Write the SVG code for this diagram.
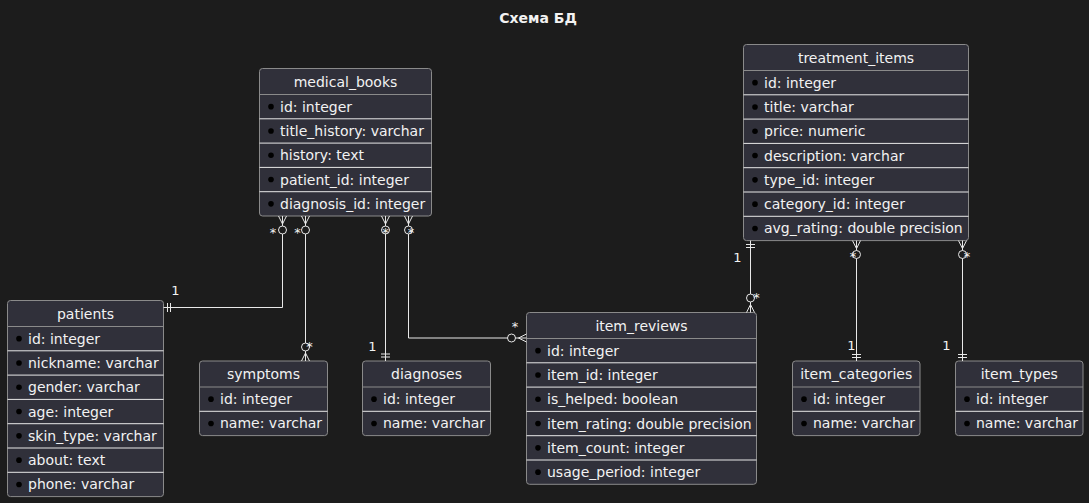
<svg xmlns="http://www.w3.org/2000/svg" width="1089" height="503" viewBox="0 0 1089 503">
<style>
text{font-family:"DejaVu Sans","Liberation Sans",sans-serif;fill:#f2f2f2}
.title{font-size:14px;font-weight:bold;text-anchor:middle}
.hdr{font-size:14px;text-anchor:middle}
.row{font-size:14px}
.lbl{font-size:13px;text-anchor:middle}
.box{fill:#30303a;stroke:#8a8a8a;stroke-width:1}
.hsep{stroke:#8a8a8a;stroke-width:1}
.rsep{stroke:#e8e8e8;stroke-width:1}
.dot{fill:#000}
.conn{fill:none;stroke:#e8e8e8;stroke-width:1}
.ring{fill:#1c1c1c;stroke:#e8e8e8;stroke-width:1}
</style>
<rect width="1089" height="503" fill="#1c1c1c"/>
<text class="title" x="538" y="23">Схема БД</text>

<g id="medical_books" transform="translate(259.5,68.5)">
<rect class="box" x="0" y="0" width="172" height="147.5" rx="3"/>
<text class="hdr" x="86" y="18">medical_books</text>
<line class="hsep" x1="0" y1="26" x2="172" y2="26"/>
<line class="rsep" x1="0" y1="50.3" x2="172" y2="50.3"/>
<line class="rsep" x1="0" y1="74.6" x2="172" y2="74.6"/>
<line class="rsep" x1="0" y1="98.9" x2="172" y2="98.9"/>
<line class="rsep" x1="0" y1="123.2" x2="172" y2="123.2"/>
<circle class="dot" cx="11.5" cy="38.15" r="2.8"/><text class="row" x="20.5" y="43.15">id: integer</text>
<circle class="dot" cx="11.5" cy="62.45" r="2.8"/><text class="row" x="20.5" y="67.45">title_history: varchar</text>
<circle class="dot" cx="11.5" cy="86.75" r="2.8"/><text class="row" x="20.5" y="91.75">history: text</text>
<circle class="dot" cx="11.5" cy="111.05" r="2.8"/><text class="row" x="20.5" y="116.05">patient_id: integer</text>
<circle class="dot" cx="11.5" cy="135.35" r="2.8"/><text class="row" x="20.5" y="140.35">diagnosis_id: integer</text>
</g>

<g id="patients" transform="translate(7.5,300.5)">
<rect class="box" x="0" y="0" width="156" height="196.1" rx="3"/>
<text class="hdr" x="78" y="18">patients</text>
<line class="hsep" x1="0" y1="26" x2="156" y2="26"/>
<line class="rsep" x1="0" y1="50.3" x2="156" y2="50.3"/>
<line class="rsep" x1="0" y1="74.6" x2="156" y2="74.6"/>
<line class="rsep" x1="0" y1="98.9" x2="156" y2="98.9"/>
<line class="rsep" x1="0" y1="123.2" x2="156" y2="123.2"/>
<line class="rsep" x1="0" y1="147.5" x2="156" y2="147.5"/>
<line class="rsep" x1="0" y1="171.8" x2="156" y2="171.8"/>
<circle class="dot" cx="11.5" cy="38.15" r="2.8"/><text class="row" x="20.5" y="43.15">id: integer</text>
<circle class="dot" cx="11.5" cy="62.45" r="2.8"/><text class="row" x="20.5" y="67.45">nickname: varchar</text>
<circle class="dot" cx="11.5" cy="86.75" r="2.8"/><text class="row" x="20.5" y="91.75">gender: varchar</text>
<circle class="dot" cx="11.5" cy="111.05" r="2.8"/><text class="row" x="20.5" y="116.05">age: integer</text>
<circle class="dot" cx="11.5" cy="135.35" r="2.8"/><text class="row" x="20.5" y="140.35">skin_type: varchar</text>
<circle class="dot" cx="11.5" cy="159.65" r="2.8"/><text class="row" x="20.5" y="164.65">about: text</text>
<circle class="dot" cx="11.5" cy="183.95" r="2.8"/><text class="row" x="20.5" y="188.95">phone: varchar</text>
</g>

<g id="symptoms" transform="translate(199.5,361)">
<rect class="box" x="0" y="0" width="128" height="74.6" rx="3"/>
<text class="hdr" x="64" y="18">symptoms</text>
<line class="hsep" x1="0" y1="26" x2="128" y2="26"/>
<line class="rsep" x1="0" y1="50.3" x2="128" y2="50.3"/>
<circle class="dot" cx="11.5" cy="38.15" r="2.8"/><text class="row" x="20.5" y="43.15">id: integer</text>
<circle class="dot" cx="11.5" cy="62.45" r="2.8"/><text class="row" x="20.5" y="67.45">name: varchar</text>
</g>

<g id="diagnoses" transform="translate(362.5,361)">
<rect class="box" x="0" y="0" width="128" height="74.6" rx="3"/>
<text class="hdr" x="64" y="18">diagnoses</text>
<line class="hsep" x1="0" y1="26" x2="128" y2="26"/>
<line class="rsep" x1="0" y1="50.3" x2="128" y2="50.3"/>
<circle class="dot" cx="11.5" cy="38.15" r="2.8"/><text class="row" x="20.5" y="43.15">id: integer</text>
<circle class="dot" cx="11.5" cy="62.45" r="2.8"/><text class="row" x="20.5" y="67.45">name: varchar</text>
</g>

<g id="item_reviews" transform="translate(526.5,312.5)">
<rect class="box" x="0" y="0" width="230" height="171.8" rx="3"/>
<text class="hdr" x="115" y="18">item_reviews</text>
<line class="hsep" x1="0" y1="26" x2="230" y2="26"/>
<line class="rsep" x1="0" y1="50.3" x2="230" y2="50.3"/>
<line class="rsep" x1="0" y1="74.6" x2="230" y2="74.6"/>
<line class="rsep" x1="0" y1="98.9" x2="230" y2="98.9"/>
<line class="rsep" x1="0" y1="123.2" x2="230" y2="123.2"/>
<line class="rsep" x1="0" y1="147.5" x2="230" y2="147.5"/>
<circle class="dot" cx="11.5" cy="38.15" r="2.8"/><text class="row" x="20.5" y="43.15">id: integer</text>
<circle class="dot" cx="11.5" cy="62.45" r="2.8"/><text class="row" x="20.5" y="67.45">item_id: integer</text>
<circle class="dot" cx="11.5" cy="86.75" r="2.8"/><text class="row" x="20.5" y="91.75">is_helped: boolean</text>
<circle class="dot" cx="11.5" cy="111.05" r="2.8"/><text class="row" x="20.5" y="116.05">item_rating: double precision</text>
<circle class="dot" cx="11.5" cy="135.35" r="2.8"/><text class="row" x="20.5" y="140.35">item_count: integer</text>
<circle class="dot" cx="11.5" cy="159.65" r="2.8"/><text class="row" x="20.5" y="164.65">usage_period: integer</text>
</g>

<g id="treatment_items" transform="translate(743.5,44.5)">
<rect class="box" x="0" y="0" width="225" height="196.1" rx="3"/>
<text class="hdr" x="112.5" y="18">treatment_items</text>
<line class="hsep" x1="0" y1="26" x2="225" y2="26"/>
<line class="rsep" x1="0" y1="50.3" x2="225" y2="50.3"/>
<line class="rsep" x1="0" y1="74.6" x2="225" y2="74.6"/>
<line class="rsep" x1="0" y1="98.9" x2="225" y2="98.9"/>
<line class="rsep" x1="0" y1="123.2" x2="225" y2="123.2"/>
<line class="rsep" x1="0" y1="147.5" x2="225" y2="147.5"/>
<line class="rsep" x1="0" y1="171.8" x2="225" y2="171.8"/>
<circle class="dot" cx="11.5" cy="38.15" r="2.8"/><text class="row" x="20.5" y="43.15">id: integer</text>
<circle class="dot" cx="11.5" cy="62.45" r="2.8"/><text class="row" x="20.5" y="67.45">title: varchar</text>
<circle class="dot" cx="11.5" cy="86.75" r="2.8"/><text class="row" x="20.5" y="91.75">price: numeric</text>
<circle class="dot" cx="11.5" cy="111.05" r="2.8"/><text class="row" x="20.5" y="116.05">description: varchar</text>
<circle class="dot" cx="11.5" cy="135.35" r="2.8"/><text class="row" x="20.5" y="140.35">type_id: integer</text>
<circle class="dot" cx="11.5" cy="159.65" r="2.8"/><text class="row" x="20.5" y="164.65">category_id: integer</text>
<circle class="dot" cx="11.5" cy="183.95" r="2.8"/><text class="row" x="20.5" y="188.95">avg_rating: double precision</text>
</g>

<g id="item_categories" transform="translate(792.5,361)">
<rect class="box" x="0" y="0" width="127.5" height="74.6" rx="3"/>
<text class="hdr" x="63.75" y="18">item_categories</text>
<line class="hsep" x1="0" y1="26" x2="127.5" y2="26"/>
<line class="rsep" x1="0" y1="50.3" x2="127.5" y2="50.3"/>
<circle class="dot" cx="11.5" cy="38.15" r="2.8"/><text class="row" x="20.5" y="43.15">id: integer</text>
<circle class="dot" cx="11.5" cy="62.45" r="2.8"/><text class="row" x="20.5" y="67.45">name: varchar</text>
</g>

<g id="item_types" transform="translate(955.5,361)">
<rect class="box" x="0" y="0" width="127.5" height="74.6" rx="3"/>
<text class="hdr" x="63.75" y="18">item_types</text>
<line class="hsep" x1="0" y1="26" x2="127.5" y2="26"/>
<line class="rsep" x1="0" y1="50.3" x2="127.5" y2="50.3"/>
<circle class="dot" cx="11.5" cy="38.15" r="2.8"/><text class="row" x="20.5" y="43.15">id: integer</text>
<circle class="dot" cx="11.5" cy="62.45" r="2.8"/><text class="row" x="20.5" y="67.45">name: varchar</text>
</g>

<g id="connectors">
<!-- medical_books -> patients -->
<path class="conn" d="M282.5,216 V307.5 H163.5"/>
<path class="conn" d="M278.5,216 L282.5,224 L286.5,216"/>
<circle class="ring" cx="282.5" cy="230" r="4"/>
<path class="conn" d="M167.5,303 V312 M170.5,303 V312"/>
<text class="lbl" x="273" y="237">*</text>
<text class="lbl" x="175.5" y="295">1</text>

<!-- medical_books -> symptoms -->
<path class="conn" d="M305.5,216 V361"/>
<path class="conn" d="M301.5,216 L305.5,224 L309.5,216"/>
<circle class="ring" cx="305.5" cy="230" r="4"/>
<path class="conn" d="M301.5,361 L305.5,353 L309.5,361"/>
<circle class="ring" cx="305.5" cy="347" r="4"/>
<text class="lbl" x="297.5" y="237">*</text>
<text class="lbl" x="309.5" y="351">*</text>

<!-- medical_books -> diagnoses -->
<path class="conn" d="M385.5,216 V361"/>
<path class="conn" d="M381.5,216 L385.5,224 L389.5,216"/>
<circle class="ring" cx="385.5" cy="230" r="4"/>
<path class="conn" d="M381,354 H390 M381,357 H390"/>
<text class="lbl" x="385.5" y="237">*</text>
<text class="lbl" x="372.5" y="350.5">1</text>

<!-- medical_books -> item_reviews -->
<path class="conn" d="M408.5,216 V338 H526.5"/>
<path class="conn" d="M404.5,216 L408.5,224 L412.5,216"/>
<circle class="ring" cx="408.5" cy="230" r="4"/>
<path class="conn" d="M526.5,334 L518.5,338 L526.5,342"/>
<circle class="ring" cx="511.5" cy="338" r="4"/>
<text class="lbl" x="411" y="237">*</text>
<text class="lbl" x="515" y="331">*</text>

<!-- treatment_items -> item_reviews -->
<path class="conn" d="M750.5,240.6 V312.5"/>
<path class="conn" d="M746,244.5 H755 M746,247.5 H755"/>
<path class="conn" d="M746.5,312.5 L750.5,304.5 L754.5,312.5"/>
<circle class="ring" cx="750.5" cy="298" r="4"/>
<text class="lbl" x="737.5" y="261.5">1</text>
<text class="lbl" x="756.5" y="302">*</text>

<!-- treatment_items -> item_categories -->
<path class="conn" d="M856.5,240.6 V361"/>
<path class="conn" d="M852.5,240.6 L856.5,248.6 L860.5,240.6"/>
<circle class="ring" cx="856.5" cy="254.5" r="4"/>
<path class="conn" d="M852,354.5 H861 M852,357.5 H861"/>
<text class="lbl" x="853" y="261">*</text>
<text class="lbl" x="851.5" y="349.5">1</text>

<!-- treatment_items -> item_types -->
<path class="conn" d="M962.5,240.6 V361"/>
<path class="conn" d="M958.5,240.6 L962.5,248.6 L966.5,240.6"/>
<circle class="ring" cx="962.5" cy="254.5" r="4"/>
<path class="conn" d="M958,354.5 H967 M958,357.5 H967"/>
<text class="lbl" x="967" y="261">*</text>
<text class="lbl" x="946.5" y="349.5">1</text>
</g>
</svg>
